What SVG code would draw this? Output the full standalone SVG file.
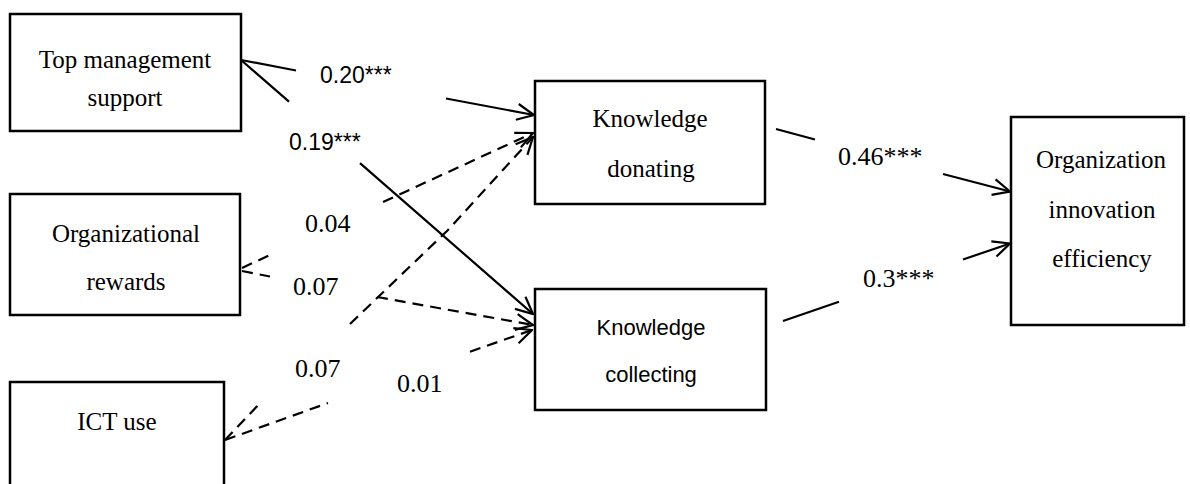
<svg xmlns="http://www.w3.org/2000/svg" width="1190" height="484" viewBox="0 0 1190 484">
<style>
.box{fill:#fff;stroke:#000;stroke-width:2.5}
.t{font-family:"Liberation Serif","Times New Roman",serif;font-size:25px;fill:#000;text-anchor:middle}
.ts{font-family:"Liberation Sans",Arial,sans-serif;font-size:22px;fill:#000;text-anchor:middle}
.lbs{font-family:"Liberation Sans",Arial,sans-serif;font-size:23px;fill:#000}
.lb{font-family:"Liberation Serif","Times New Roman",serif;font-size:26px;fill:#000}
.solid{fill:none;stroke:#000;stroke-width:2.2;marker-end:url(#arr)}
.dash{fill:none;stroke:#000;stroke-width:2.2;stroke-dasharray:11 7;marker-end:url(#arr)}
</style>
<defs>
<marker id="arr" viewBox="0 0 20 20" refX="19" refY="10" markerWidth="20" markerHeight="20" markerUnits="userSpaceOnUse" orient="auto">
<path d="M2,2 L19,10 L2,18" fill="none" stroke="#000" stroke-width="2.2" stroke-dasharray="none"/>
</marker>
</defs>
<rect width="1190" height="484" fill="#fff"/>
<g id="tms"><rect class="box" x="10" y="14" width="231" height="117"/><text class="t" x="125" y="68">Top management</text><text class="t" x="125" y="106">support</text></g>
<g id="or"><rect class="box" x="10" y="194" width="230" height="121"/><text class="t" x="126" y="242">Organizational</text><text class="t" x="126" y="290">rewards</text></g>
<g id="ict"><rect class="box" x="10" y="382" width="214" height="120"/><text class="t" x="117" y="430">ICT use</text></g>
<g id="kd"><rect class="box" x="535" y="81" width="230" height="123"/><text class="t" x="650" y="127">Knowledge</text><text class="t" x="651" y="177">donating</text></g>
<g id="kc"><rect class="box" x="535" y="289" width="231" height="121"/><text class="ts" x="651" y="335">Knowledge</text><text class="ts" x="651" y="382">collecting</text></g>
<g id="oie"><rect class="box" x="1011" y="117" width="173" height="208"/><text class="t" x="1101" y="168">Organization</text><text class="t" x="1102" y="218">innovation</text><text class="t" x="1102" y="267">efficiency</text></g>
<g id="connectors">
<path class="solid" d="M241,60 L296,70.5 M446,98.5 L534,115"/>
<path class="solid" d="M241,60 L289,101.6 M360,163.2 L533,314"/>
<path class="solid" d="M776,129 L815,139.5 M943,174 L1010,191.5"/>
<path class="solid" d="M783,321 L839,301.8 M963,259.5 L1010,243.5"/>
<path class="dash" d="M242,268 L272,254 M383,202 L533,133"/>
<path class="dash" d="M225,440 L262,401 M350,324 L448,230 L533,137"/>
<path class="dash" d="M242,271 L270,276.5 M377,297 L533,325"/>
<path class="dash" d="M225,440 L328,403 M470,351.7 L532,330"/>
</g>
<g id="labels">
<text class="lbs" x="320" y="83">0.20***</text>
<text class="lbs" x="289" y="150">0.19***</text>
<text class="lb" x="838" y="165">0.46***</text>
<text class="lb" x="863" y="287">0.3***</text>
<text class="lb" x="305" y="232">0.04</text>
<text class="lb" x="293" y="295">0.07</text>
<text class="lb" x="295" y="377">0.07</text>
<text class="lb" x="397" y="392">0.01</text>
</g>
</svg>
